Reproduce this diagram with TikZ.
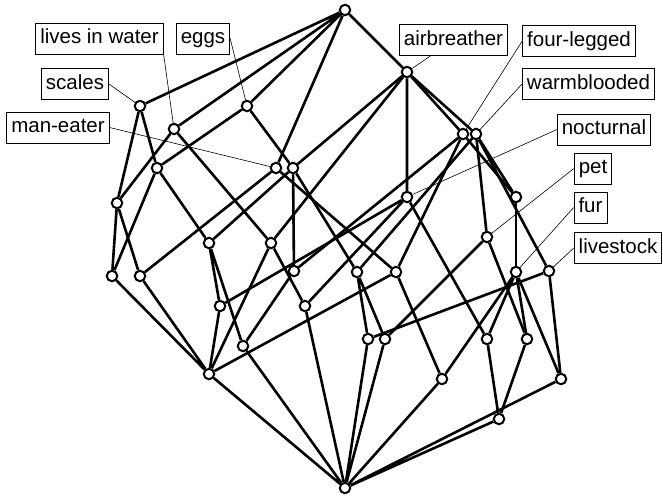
\documentclass[tikz,border=0pt]{standalone}
\usepackage{fontspec}
\setmainfont{Liberation Sans}
\pgfdeclarelayer{bg}
\pgfsetlayers{bg,main}
\begin{document}
\begin{tikzpicture}[x=1pt,y=-1pt,
  cn/.style={circle,draw,fill=white,line width=2pt,minimum size=10.5pt,inner sep=0pt},
  ed/.style={line width=2.6pt},
  lab/.style={draw,line width=0.8pt,fill=white,inner xsep=4.5pt,inner ysep=5.5pt,text height=15.4pt,text depth=4.5pt,font=\fontsize{20.5}{24}\selectfont},
  ll/.style={line width=0.6pt}]
\useasboundingbox (0,0) rectangle (663,496);
% concept nodes
\node[cn] (T) at (345,10) {};
\node[cn] (A) at (407,72) {};
\node[cn] (S) at (140,106) {};
\node[cn] (E) at (247,106) {};
\node[cn] (W) at (174,129) {};
\node[cn] (F) at (463,134) {};
\node[cn] (WB) at (476,134) {};
\node[cn] (M) at (276,168) {};
\node[cn] (N2) at (293,168) {};
\node[cn] (X) at (157,168) {};
\node[cn] (Y) at (117,203) {};
\node[cn] (n12) at (407,197) {};
\node[cn] (n13) at (516,197) {};
\node[cn] (n14) at (487,237) {};
\node[cn] (n15) at (209,243) {};
\node[cn] (n16) at (271,243) {};
\node[cn] (n17) at (112,276) {};
\node[cn] (n18) at (140,276) {};
\node[cn] (n19) at (294,271) {};
\node[cn] (n20) at (357,272) {};
\node[cn] (n21) at (396,272) {};
\node[cn] (n22) at (516,272) {};
\node[cn] (n23) at (549,271) {};
\node[cn] (n24) at (220,306) {};
\node[cn] (n25) at (305,306) {};
\node[cn] (n26) at (368,339) {};
\node[cn] (n27) at (385,339) {};
\node[cn] (n28) at (487,339) {};
\node[cn] (n29) at (527,339) {};
\node[cn] (n30) at (243,346) {};
\node[cn] (n31) at (209,374) {};
\node[cn] (n32) at (442,379) {};
\node[cn] (n33) at (561,379) {};
\node[cn] (n34) at (499,419) {};
\node[cn] (B) at (345,488) {};
% labels
\node[lab] (lw) at (99.5,38.5) {lives in water};
\node[lab] (le) at (203,38.5) {eggs};
\node[lab] (ls) at (75,84) {scales};
\node[lab] (lm) at (58,127.5) {man-eater};
\node[lab] (la) at (453.5,40) {airbreather};
\node[lab] (lf) at (579,41) {four-legged};
\node[lab] (lb) at (588.5,84) {warmblooded};
\node[lab] (ln) at (604,129.5) {nocturnal};
\node[lab] (lp) at (593,168.5) {pet};
\node[lab] (lu) at (590.5,207.5) {fur};
\node[lab] (ll) at (618,248) {livestock};
\begin{pgfonlayer}{bg}
\draw[ll] (lw.south east) -- (W);
\draw[ll] (le.east) -- (E);
\draw[ll] (ls.east) -- (S);
\draw[ll] (lm.east) -- (M);
\draw[ll] ([xshift=-23pt]la.south) -- (A);
\draw[ll] (lf.west) -- (F);
\draw[ll] (lb.west) -- (WB);
\draw[ll] (ln.west) -- (n12);
\draw[ll] (lp.west) -- (n14);
\draw[ll] (lu.west) -- (n22);
\draw[ll] (ll.west) -- (n23);
\draw[ed] (T) -- (S) (T) -- (W) (T) -- (E) (T) -- (M) (T) -- (A);
\draw[ed] (A) -- (F) (A) -- (WB) (A) -- (n12) (A) -- (N2) (A) -- (n16);
\draw[ed] (E) -- (X) (E) -- (N2);
\draw[ed] (S) -- (X) (S) -- (Y);
\draw[ed] (W) -- (Y) (W) -- (n16);
\draw[ed] (X) -- (n17) (X) -- (n15);
\draw[ed] (Y) -- (n17) (Y) -- (n18);
\draw[ed] (M) -- (n18) (M) -- (n21);
\draw[ed] (N2) -- (n15) (N2) -- (n19) (N2) -- (n20);
\draw[ed] (F) -- (n13) (F) -- (n21) (F) -- (n19);
\draw[ed] (WB) -- (n13) (WB) -- (n14) (WB) -- (n20) (WB) -- (n23);
\draw[ed] (n12) -- (n24) (n12) -- (n25) (n12) -- (n28);
\draw[ed] (n13) -- (n22);
\draw[ed] (n14) -- (n27) (n14) -- (n29);
\draw[ed] (n15) -- (n24) (n15) -- (n30);
\draw[ed] (n16) -- (n25) (n16) -- (n31);
\draw[ed] (n17) -- (n31) (n18) -- (n31);
\draw[ed] (n19) -- (n30);
\draw[ed] (n20) -- (n26) (n20) -- (n27);
\draw[ed] (n21) -- (n31) (n21) -- (n32);
\draw[ed] (n22) -- (n28) (n22) -- (n29) (n22) -- (n32) (n22) -- (n33);
\draw[ed] (n23) -- (n26) (n23) -- (n33);
\draw[ed] (n24) -- (n31);
\draw[ed] (n28) -- (n34) (n29) -- (n34);
\draw[ed] (B) -- (n25) (B) -- (n26) (B) -- (n27) (B) -- (n30) (B) -- (n31) (B) -- (n32) (B) -- (n33) (B) -- (n34);
\end{pgfonlayer}
\end{tikzpicture}
\end{document}
